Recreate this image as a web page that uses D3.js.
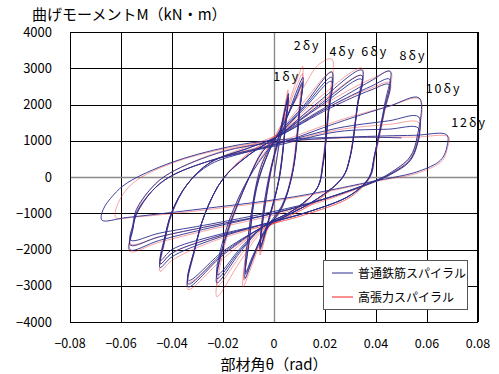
<!DOCTYPE html>
<html><head><meta charset="utf-8">
<script src="https://cdn.jsdelivr.net/npm/d3@7"></script>
<style>
body{margin:0;background:#fff;}
text{font-family:"Noto Sans CJK JP","Noto Sans",sans-serif;}
</style></head>
<body>
<svg id="c" width="499" height="374"></svg>
<script>
// ---- axes ----
const xTicks = [-0.08,-0.06,-0.04,-0.02,0,0.02,0.04,0.06,0.08];
const xTickLabels = ["−0.08","−0.06","−0.04","−0.02","0","0.02","0.04","0.06","0.08"];
const yTicks = [4000,3000,2000,1000,0,-1000,-2000,-3000,-4000];
const yTickLabels = ["4000","3000","2000","1000","0","−1000","−2000","−3000","−4000"];
const xTitle = "部材角θ（rad）";
const yTitle = "曲げモーメントM（kN・m）";
const seriesNames = ["普通鉄筋スパイラル","高張力スパイラル"];
const ampLabels = ["1δy","2δy","4δy","6δy","8δy","10δy","12δy"];
const ampLabelPos = [[0.0050,2650],[0.0130,3500],[0.0270,3330],[0.0395,3330],[0.0545,3220],[0.0665,2320],[0.0765,1370]];

// ---- 普通鉄筋スパイラル (blue), [theta, M] ----
const blue1 = [[0,0],[0.0025,1100],[0.0057,2300],
 [0.0046,1500],[0.0022,0],[-0.0015,-1000],[-0.0055,-2000],
 [-0.0044,-1200],[-0.0012,200],[0.0025,1300],[0.0056,2200],
 [0.0045,1400],[0.0020,-50],[-0.0015,-1050],[-0.0054,-1950],
 [-0.0043,-1150],[-0.0010,250],[0.0026,1300],[0.0055,2150],
 [0.0044,1350],[0.0019,-80],[-0.0016,-1050],[-0.0053,-1900]];
const blue2 = [[-0.0042,-900],[-0.001,300],[0.004,1400],[0.0085,2300],[0.0114,2750],
 [0.0102,1900],[0.0075,200],[0.003,-800],[-0.004,-1500],[-0.0085,-2300],[-0.0114,-2800],
 [-0.0098,-1800],[-0.007,-300],[-0.002,700],[0.004,1500],[0.0085,2200],[0.0112,2620],
 [0.0100,1800],[0.0072,100],[0.003,-850],[-0.004,-1550],[-0.0085,-2250],[-0.0112,-2680],
 [-0.0097,-1750],[-0.0068,-300],[-0.002,700],[0.004,1500],[0.0085,2150],[0.0111,2560],
 [0.0099,1750],[0.0071,50],[0.003,-850],[-0.004,-1550],[-0.0085,-2200],[-0.0111,-2620]];
const blue4 = [[-0.0095,-1300],[-0.005,300],[0.001,1100],[0.012,2000],[0.0227,2900],
 [0.0215,1850],[0.0195,470],[0.017,-300],[0.008,-900],[-0.004,-1350],[-0.013,-2050],[-0.0224,-2920],
 [-0.019,-1700],[-0.0102,-80],[-0.0045,700],[0.001,1100],[0.012,1950],[0.0226,2750],
 [0.0213,1750],[0.0193,400],[0.017,-300],[0.008,-900],[-0.004,-1350],[-0.013,-2000],[-0.0223,-2800],
 [-0.019,-1650],[-0.0100,-50],[-0.0045,700],[0.001,1100],[0.012,1900],[0.0225,2640],
 [0.0212,1700],[0.0192,380],[0.017,-300],[0.008,-900],[-0.004,-1350],[-0.013,-1950],[-0.0222,-2700]];
const blue6 = [[-0.019,-1500],[-0.012,-300],[-0.004,600],[0.002,1100],[0.018,2100],[0.0345,2950],
 [0.0330,2100],[0.0300,600],[0.027,0],[0.017,-600],[0.004,-1100],[-0.005,-1400],[-0.020,-2150],[-0.0337,-3030],
 [-0.031,-2000],[-0.027,-1000],[-0.020,-50],[-0.010,600],[0.001,1100],[0.018,2000],[0.0344,2800],
 [0.0328,2000],[0.0298,550],[0.027,0],[0.017,-600],[0.004,-1100],[-0.005,-1400],[-0.020,-2100],[-0.0336,-2950],
 [-0.031,-1950],[-0.027,-1000],[-0.020,-50],[-0.010,600],[0.001,1100],[0.018,1950],[0.0343,2700],
 [0.0327,1950],[0.0297,500],[0.027,0],[0.017,-600],[0.004,-1100],[-0.005,-1400],[-0.020,-2050],[-0.0335,-2850]];
const blue8 = [[-0.031,-1950],[-0.027,-1000],[-0.020,-50],[-0.010,600],[0.001,1100],[0.022,2000],[0.038,2650],[0.0455,2920],
 [0.0435,2040],[0.0396,660],[0.0376,0],[0.030,-500],[0.014,-950],[-0.004,-1300],[-0.025,-1750],[-0.040,-2200],[-0.0447,-2500],
 [-0.043,-1800],[-0.040,-1000],[-0.034,-200],[-0.025,400],[-0.010,800],[0.001,1100],[0.022,1950],[0.038,2500],[0.0453,2700],
 [0.0433,1900],[0.0394,600],[0.0374,0],[0.030,-500],[0.014,-950],[-0.004,-1300],[-0.025,-1700],[-0.040,-2100],[-0.0446,-2400],
 [-0.043,-1750],[-0.040,-950],[-0.034,-200],[-0.025,400],[-0.010,800],[0.001,1100],[0.022,1900],[0.038,2400],[0.0452,2550],
 [0.0432,1800],[0.0393,550],[0.0373,0],[0.030,-500],[0.014,-950],[-0.004,-1300],[-0.025,-1650],[-0.040,-2000],[-0.0445,-2300]];
const blue10 = [[-0.043,-1700],[-0.040,-950],[-0.034,-200],[-0.025,350],[-0.010,700],[0.001,900],[0.025,1500],[0.045,1950],[0.0569,2180],
 [0.0561,1100],[0.0533,550],[0.0455,110],[0.0404,-80],[0.020,-600],[0,-1000],[-0.025,-1400],[-0.045,-1750],[-0.0565,-2010],
 [-0.0555,-1500],[-0.054,-1050],[-0.048,-400],[-0.041,0],[-0.025,450],[0,900],[0.025,1350],[0.045,1550],[0.0567,1660],
 [0.0560,900],[0.0530,450],[0.0455,80],[0.0400,-100],[0.020,-600],[0,-1000],[-0.025,-1350],[-0.045,-1650],[-0.0563,-1880],
 [-0.0553,-1400],[-0.054,-1000],[-0.048,-400],[-0.041,0],[-0.025,450],[0,850],[0.025,1250],[0.045,1320],[0.0566,1350],
 [0.0558,800],[0.0528,400],[0.0455,60],[0.0400,-120],[0.020,-600],[0,-950],[-0.025,-1300],[-0.045,-1550],[-0.0562,-1740]];
const blue12 = [[-0.0553,-1300],[-0.054,-900],[-0.048,-300],[-0.041,100],[-0.02,700],[0,950],[0.03,1100],[0.055,1150],[0.0678,1160],
 [0.0678,830],[0.0663,550],[0.064,390],[0.056,140],[0.0455,-30],[0.0416,-80],[0.0075,-550],[-0.032,-910],[-0.058,-1120],[-0.0675,-1190],
 [-0.067,-900],[-0.063,-500],[-0.0576,-165],[-0.0408,386],[-0.018,830],[0.001,1020],[0.03,1100],[0.05,1080]];

// ---- 高張力スパイラル (red), [theta, M] ----
const red1 = [[0,0],[0.0025,1200],[0.0055,2400],[0.0044,1500],[0.002,0],[-0.0015,-1100],[-0.0055,-2150],
 [-0.0043,-1250],[-0.001,200],[0.0027,1400],[0.0055,2300],[0.0044,1400],[0.0019,-50],[-0.0015,-1100],[-0.0054,-2050]];
const red2 = [[-0.0042,-950],[-0.001,350],[0.004,1600],[0.0085,2600],[0.0113,3050],
 [0.0100,2000],[0.0072,200],[0.003,-850],[-0.004,-1600],[-0.009,-2500],[-0.0122,-3030],
 [-0.0105,-1900],[-0.007,-300],[-0.002,750],[0.004,1600],[0.0085,2450],[0.0112,2850],
 [0.0099,1900],[0.0070,100],[0.003,-900],[-0.004,-1600],[-0.009,-2400],[-0.0118,-2850]];
const red4 = [[-0.0095,-1300],[-0.005,350],[0.001,1200],[0.011,2400],[0.0175,3100],[0.0227,3250],
 [0.0213,2000],[0.0192,450],[0.017,-300],[0.008,-950],[-0.004,-1450],[-0.013,-2300],[-0.0224,-3300],
 [-0.019,-1800],[-0.0100,-50],[-0.0045,750],[0.001,1150],[0.012,2100],[0.0225,2900],
 [0.0211,1800],[0.0190,380],[0.017,-300],[0.008,-950],[-0.004,-1400],[-0.013,-2150],[-0.0222,-3000]];
const red6 = [[-0.019,-1600],[-0.012,-300],[-0.004,650],[0.002,1150],[0.018,2200],[0.0345,3000],
 [0.0328,2100],[0.0297,550],[0.027,0],[0.017,-650],[0.004,-1150],[-0.005,-1450],[-0.020,-2250],[-0.0337,-3100],
 [-0.031,-2000],[-0.027,-1000],[-0.020,-50],[-0.010,650],[0.001,1150],[0.018,2050],[0.0344,2800],
 [0.0326,1950],[0.0296,500],[0.027,0],[0.017,-650],[0.004,-1150],[-0.005,-1450],[-0.020,-2150],[-0.0335,-2900]];
const red8 = [[-0.031,-1950],[-0.027,-1000],[-0.020,-50],[-0.010,650],[0.001,1150],[0.022,2100],[0.038,2700],[0.0458,2900],
 [0.0438,2000],[0.0398,600],[0.0378,0],[0.030,-550],[0.014,-1000],[-0.004,-1350],[-0.025,-1800],[-0.040,-2300],[-0.0447,-2600],
 [-0.043,-1850],[-0.040,-1000],[-0.034,-200],[-0.025,400],[-0.010,850],[0.001,1150],[0.022,1950],[0.038,2450],[0.0455,2600],
 [0.0435,1850],[0.0395,550],[0.0375,0],[0.030,-550],[0.014,-1000],[-0.004,-1350],[-0.025,-1700],[-0.040,-2100],[-0.0445,-2400]];
const red10 = [[-0.043,-1750],[-0.040,-950],[-0.034,-200],[-0.025,400],[-0.010,750],[0.001,950],[0.025,1550],[0.045,1950],[0.0572,2150],
 [0.0563,1100],[0.0535,550],[0.0458,100],[0.0405,-100],[0.020,-650],[0,-1050],[-0.025,-1450],[-0.045,-1800],[-0.0567,-2050],
 [-0.0556,-1450],[-0.054,-1000],[-0.048,-400],[-0.041,0],[-0.025,450],[0,880],[0.025,1300],[0.045,1450],[0.0568,1500],
 [0.0559,850],[0.0530,420],[0.0455,70],[0.0400,-110],[0.020,-620],[0,-1000],[-0.025,-1350],[-0.045,-1650],[-0.0563,-1850]];
const red12 = [[-0.0553,-1350],[-0.054,-950],[-0.048,-300],[-0.041,100],[-0.02,720],[0,950],[0.03,1080],[0.055,1100],[0.0685,1100],
 [0.068,800],[0.0665,500],[0.0642,350],[0.056,100],[0.0455,-50],[0.0416,-100],[0.0075,-580],[-0.032,-950],[-0.054,-1100],[-0.062,-1120],
 [-0.061,-700],[-0.055,-150],[-0.04,380],[-0.018,800],[0.001,1000]];

const blueData = [].concat(blue1,blue2,blue4,blue6,blue8,blue10,blue12);
const redData = [].concat(red1,red2,red4,red6,red8,red10,red12);

const svg = d3.select("#c");
const L=70,R=478,T=32,B=322;
const x = d3.scaleLinear().domain([-0.08,0.08]).range([L,R]);
const y = d3.scaleLinear().domain([-4000,4000]).range([B,T]);

// grid
const g = svg.append("g");
g.selectAll("line.vx").data(xTicks).enter().append("line")
 .attr("x1",d=>x(d)+0.5).attr("x2",d=>x(d)+0.5).attr("y1",T).attr("y2",B)
 .attr("stroke",d=>d===0?"#8a8a8a":"#000").attr("stroke-width",d=>d===0?1.4:1);
g.selectAll("line.hy").data(yTicks).enter().append("line")
 .attr("y1",d=>Math.round(y(d))+0.5).attr("y2",d=>Math.round(y(d))+0.5).attr("x1",L).attr("x2",R)
 .attr("stroke",d=>d===0?"#8a8a8a":"#000").attr("stroke-width",d=>d===0?1.4:1);

svg.append("clipPath").attr("id","clip").append("rect").attr("x",L).attr("y",T).attr("width",R-L).attr("height",B-T);
const line = d3.line().x(d=>x(d[0])).y(d=>y(d[1])).curve(d3.curveCatmullRom.alpha(0.5));
const plot = svg.append("g").attr("clip-path","url(#clip)");
plot.append("path").datum(redData).attr("d",line).attr("fill","none")
 .attr("stroke","#f03535").attr("stroke-opacity",0.5).attr("stroke-width",0.9);
plot.append("path").datum(blueData).attr("d",line).attr("fill","none")
 .attr("stroke","#2b2f8f").attr("stroke-width",1).attr("stroke-opacity",0.9);

// frame
svg.append("rect").attr("x",L+0.5).attr("y",T+0.5).attr("width",R-L-1).attr("height",B-T)
 .attr("fill","none").attr("stroke","#000").attr("stroke-width",1);

// tick labels
svg.selectAll("text.xt").data(xTicks).enter().append("text")
 .attr("x",d=>x(d)).attr("y",348).attr("text-anchor","middle").attr("font-size",12.5)
 .text((d,i)=>xTickLabels[i]);
svg.selectAll("text.yt").data(yTicks).enter().append("text")
 .attr("x",52).attr("y",d=>y(d)+4.5).attr("text-anchor","end").attr("font-size",13)
 .text((d,i)=>yTickLabels[i]);

// titles
svg.append("text").attr("x",274).attr("y",370).attr("text-anchor","middle").attr("font-size",15).text(xTitle);
svg.append("text").attr("x",32).attr("y",20).attr("font-size",15).text(yTitle);

// amplitude labels
svg.selectAll("text.amp").data(ampLabels).enter().append("text")
 .attr("x",(d,i)=>x(ampLabelPos[i][0])).attr("y",(d,i)=>y(ampLabelPos[i][1]))
 .attr("text-anchor","middle").attr("font-size",12.5).attr("letter-spacing",2)
 .text(d=>d);

// legend
const lg = svg.append("g");
lg.append("rect").attr("x",323.5).attr("y",260.5).attr("width",144).attr("height",49)
 .attr("fill","#fff").attr("stroke","#555").attr("stroke-width",1);
const legColors = ["#2b2f8f","#f02020"];
seriesNames.forEach((s,i)=>{
 lg.append("line").attr("x1",332).attr("x2",353).attr("y1",273+i*24).attr("y2",273+i*24)
   .attr("stroke",legColors[i]).attr("stroke-width",1);
 lg.append("text").attr("x",358).attr("y",278+i*24).attr("font-size",12).text(s);
});
</script>
</body></html>
